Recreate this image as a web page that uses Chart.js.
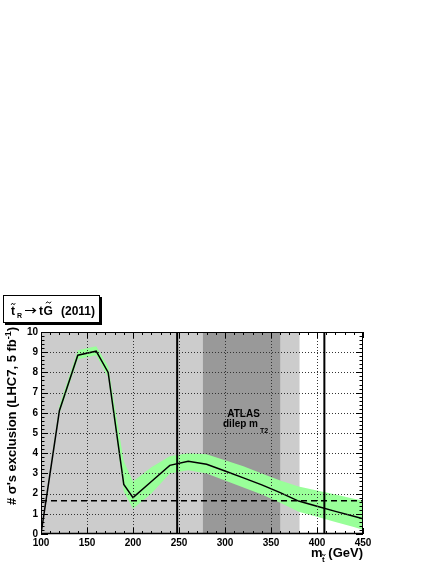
<!DOCTYPE html>
<html>
<head>
<meta charset="utf-8">
<script src="https://cdn.jsdelivr.net/npm/chart.js@4/dist/chart.umd.min.js"></script>
<style>
  html, body { margin: 0; padding: 0; background: #fff; }
  canvas { display: block; }
</style>
</head>
<body>
<canvas id="exclusionChart" width="436" height="564"></canvas>
<script>
// stop mass (GeV) and number of sigmas of exclusion, with the uncertainty band
const stopMass = [100, 120, 140, 160, 173, 190, 200, 220, 240, 260, 280, 300, 320, 340, 360, 380, 400, 420, 440, 450];
const nSigma   = [0, 6.1, 8.85, 9.05, 8.0, 2.45, 1.8, 2.6, 3.4, 3.6, 3.45, 3.12, 2.78, 2.43, 2.05, 1.63, 1.37, 1.12, 0.88, 0.75];
const bandHigh = [0, 6.35, 9.1, 9.3, 8.3, 3.6, 2.6, 3.3, 3.85, 4.0, 3.95, 3.65, 3.35, 3.0, 2.65, 2.35, 2.15, 1.95, 1.75, 1.66];
const bandLow  = [0, 5.95, 8.65, 8.85, 7.75, 2.1, 1.25, 2.0, 3.0, 3.15, 3.0, 2.65, 2.3, 1.95, 1.55, 1.1, 0.85, 0.6, 0.35, 0.21];

// axis ranges
const xRange = [100, 450];
const yRange = [0, 10];

// excluded regions (GeV) and reference lines
const lightRegion = [100, 381];
const darkRegion = [276, 360];
const limitMasses = [248, 408];
const dashedLevel = 1.64;

const FONT = '"Liberation Sans", Arial, Helvetica, sans-serif';

function toPoints(ys) {
  return stopMass.map((m, i) => ({ x: m, y: ys[i] }));
}

function tilde(ctx, cx, y, w) {
  ctx.beginPath();
  ctx.moveTo(cx - w / 2, y + 0.8);
  ctx.quadraticCurveTo(cx - w / 4, y - 1.8, cx, y);
  ctx.quadraticCurveTo(cx + w / 4, y + 1.8, cx + w / 2, y - 0.8);
  ctx.lineWidth = 1;
  ctx.strokeStyle = '#000';
  ctx.stroke();
}

// gray excluded regions, under everything
const regionsPlugin = {
  id: 'regions',
  beforeDraw(chart) {
    const { ctx, chartArea: a, scales: { x } } = chart;
    ctx.save();
    ctx.fillStyle = '#cccccc';
    ctx.fillRect(x.getPixelForValue(lightRegion[0]), a.top,
      x.getPixelForValue(lightRegion[1]) - x.getPixelForValue(lightRegion[0]), a.bottom - a.top);
    ctx.fillStyle = '#999999';
    ctx.fillRect(x.getPixelForValue(darkRegion[0]), a.top,
      x.getPixelForValue(darkRegion[1]) - x.getPixelForValue(darkRegion[0]), a.bottom - a.top);
    ctx.restore();
  }
};

// grid, reference lines, frame, tick marks and texts on top
const decorPlugin = {
  id: 'decor',
  afterDatasetsDraw(chart) {
    const { ctx, chartArea: a, scales: { x, y } } = chart;
    ctx.save();

    // dotted grid
    ctx.strokeStyle = '#333';
    ctx.lineWidth = 1;
    ctx.setLineDash([1, 2]);
    for (let v = xRange[0] + 50; v < xRange[1]; v += 50) {
      const px = Math.round(x.getPixelForValue(v)) + 0.5;
      ctx.beginPath(); ctx.moveTo(px, a.top); ctx.lineTo(px, a.bottom); ctx.stroke();
    }
    for (let v = yRange[0] + 1; v < yRange[1]; v += 1) {
      const py = Math.round(y.getPixelForValue(v)) + 0.5;
      ctx.beginPath(); ctx.moveTo(a.left, py); ctx.lineTo(a.right, py); ctx.stroke();
    }

    // dashed 95% level
    ctx.setLineDash([6, 4]);
    ctx.lineWidth = 1.5;
    ctx.strokeStyle = '#000';
    const dy = y.getPixelForValue(dashedLevel);
    ctx.beginPath(); ctx.moveTo(a.left, dy); ctx.lineTo(a.right, dy); ctx.stroke();
    ctx.setLineDash([]);

    // vertical limit lines
    ctx.lineWidth = 2;
    limitMasses.forEach(m => {
      const px = x.getPixelForValue(m);
      ctx.beginPath(); ctx.moveTo(px, a.top); ctx.lineTo(px, a.bottom); ctx.stroke();
    });

    // frame
    ctx.lineWidth = 1;
    ctx.strokeRect(a.left + 0.5, a.top + 0.5, a.right - a.left - 1, a.bottom - a.top - 1);
    ctx.lineWidth = 1.5;
    ctx.beginPath(); ctx.moveTo(a.left, a.bottom - 0.5); ctx.lineTo(a.right, a.bottom - 0.5); ctx.stroke();

    // tick marks, inside the frame
    ctx.lineWidth = 1;
    for (let v = xRange[0]; v <= xRange[1]; v += 10) {
      const px = Math.round(x.getPixelForValue(v)) + 0.5;
      const len = v % 50 === 0 ? 6 : 3;
      ctx.beginPath();
      ctx.moveTo(px, a.bottom); ctx.lineTo(px, a.bottom - len);
      ctx.moveTo(px, a.top); ctx.lineTo(px, a.top + len);
      ctx.stroke();
    }
    for (let k = yRange[0] * 5; k <= yRange[1] * 5; k++) {
      const py = Math.round(y.getPixelForValue(k / 5)) + 0.5;
      const len = k % 5 === 0 ? 7 : 3.5;
      ctx.beginPath();
      ctx.moveTo(a.left, py); ctx.lineTo(a.left + len, py);
      ctx.moveTo(a.right, py); ctx.lineTo(a.right - len, py);
      ctx.stroke();
    }

    // ATLAS label inside the dark region
    ctx.fillStyle = '#000';
    ctx.font = 'bold 10px ' + FONT;
    ctx.textAlign = 'center';
    ctx.textBaseline = 'alphabetic';
    const cx = (x.getPixelForValue(darkRegion[0]) + x.getPixelForValue(darkRegion[1])) / 2;
    ctx.fillText('ATLAS', cx + 2, 417);
    ctx.textAlign = 'left';
    ctx.fillText('dilep m', 223, 427);
    ctx.font = 'bold 7px ' + FONT;
    ctx.fillText('T2', 260, 433);

    // x axis title
    ctx.font = 'bold 13px ' + FONT;
    ctx.textAlign = 'left';
    ctx.fillText('m', 311, 557);
    ctx.font = 'bold 8px ' + FONT;
    ctx.fillText('t', 322, 562);
    tilde(ctx, 323.5, 555, 3.5);
    ctx.font = 'bold 13px ' + FONT;
    ctx.textAlign = 'right';
    ctx.fillText('(GeV)', 363, 557);

    // y axis title, rotated
    ctx.save();
    ctx.translate(16, 416);
    ctx.rotate(-Math.PI / 2);
    const main = "# \u03c3's exclusion (LHC7, 5 fb";
    ctx.font = 'bold 9px ' + FONT;
    const wSup = ctx.measureText('-1').width;
    ctx.font = 'bold 13px ' + FONT;
    const wMain = ctx.measureText(main).width;
    const wEnd = ctx.measureText(')').width;
    let tx = -(wMain + wSup + wEnd) / 2;
    ctx.textAlign = 'left';
    ctx.fillText(main, tx, 0);
    tx += wMain;
    ctx.font = 'bold 9px ' + FONT;
    ctx.fillText('-1', tx, -5);
    tx += wSup;
    ctx.font = 'bold 13px ' + FONT;
    ctx.fillText(')', tx, 0);
    ctx.restore();

    // title box with shadow
    ctx.fillStyle = '#000';
    ctx.fillRect(5, 297, 97, 28);
    ctx.fillStyle = '#fff';
    ctx.fillRect(3, 295, 97, 28);
    ctx.strokeStyle = '#000';
    ctx.lineWidth = 1;
    ctx.strokeRect(3.5, 295.5, 96, 27);

    ctx.fillStyle = '#000';
    ctx.textAlign = 'left';
    ctx.font = 'bold 12px ' + FONT;
    ctx.fillText('t', 11, 315);
    tilde(ctx, 13.2, 304, 4);
    ctx.font = 'bold 7px ' + FONT;
    ctx.fillText('R', 17, 318);
    // arrow
    ctx.lineWidth = 1.2;
    ctx.beginPath();
    ctx.moveTo(25, 310.5); ctx.lineTo(35.5, 310.5);
    ctx.moveTo(32.5, 308); ctx.lineTo(35.5, 310.5); ctx.lineTo(32.5, 313);
    ctx.stroke();
    ctx.font = 'bold 12px ' + FONT;
    ctx.fillText('t', 39, 315);
    ctx.fillText('G', 43.5, 315);
    tilde(ctx, 48.5, 302.5, 5);
    ctx.fillText('(2011)', 61, 315);

    ctx.restore();
  }
};

Chart.defaults.font.family = FONT;

new Chart(document.getElementById('exclusionChart'), {
  type: 'line',
  data: {
    datasets: [
      {
        label: 'band high',
        data: toPoints(bandHigh),
        borderWidth: 0,
        pointRadius: 0,
        backgroundColor: '#99ff99',
        fill: '+1',
        order: 2
      },
      {
        label: 'band low',
        data: toPoints(bandLow),
        borderWidth: 0,
        pointRadius: 0,
        fill: false,
        order: 1
      },
      {
        label: 'exclusion',
        data: toPoints(nSigma),
        borderColor: '#000',
        borderWidth: 1.5,
        pointRadius: 0,
        fill: false,
        tension: 0,
        order: 0
      }
    ]
  },
  options: {
    responsive: false,
    animation: false,
    layout: { padding: { top: 332, right: 73, left: 0, bottom: 0 } },
    plugins: { legend: { display: false }, tooltip: { enabled: false } },
    scales: {
      x: {
        type: 'linear',
        min: xRange[0],
        max: xRange[1],
        afterFit: s => { s.height = 30; },
        grid: { display: false, drawTicks: false },
        border: { display: false },
        ticks: {
          stepSize: 50,
          maxRotation: 0,
          autoSkip: false,
          padding: 3,
          color: '#000',
          font: { size: 10, weight: 'bold' }
        }
      },
      y: {
        min: yRange[0],
        max: yRange[1],
        afterFit: s => { s.width = 41; },
        grid: { display: false, drawTicks: false },
        border: { display: false },
        ticks: {
          stepSize: 1,
          autoSkip: false,
          padding: 3,
          color: '#000',
          font: { size: 10, weight: 'bold' }
        }
      }
    }
  },
  plugins: [regionsPlugin, decorPlugin]
});
</script>
</body>
</html>
